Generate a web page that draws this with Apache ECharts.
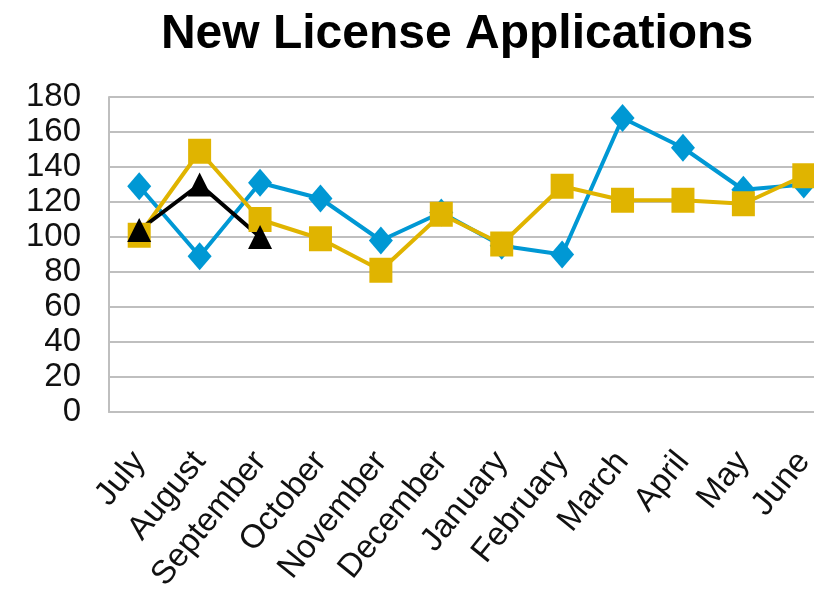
<!DOCTYPE html>
<html>
<head>
<meta charset="utf-8">
<script src="https://cdn.jsdelivr.net/npm/echarts@6/dist/echarts.min.js"></script>
<style>
  html, body { margin: 0; padding: 0; background: #fff; }
  #chart { width: 814px; height: 607px; }
</style>
</head>
<body>
<div id="chart"></div>
<script>
const months = ['July', 'August', 'September', 'October', 'November', 'December',
  'January', 'February', 'March', 'April', 'May', 'June']
const blueSeries = [129, 89, 131, 122, 98, 114, 95, 90, 168, 151, 127, 130]
const yellowSeries = [101, 149, 110, 99, 81, 113, 96, 129, 121, 121, 119, 135]
const blackSeries = [104, 130, 100]

const chart = echarts.init(document.getElementById('chart'))

const axisText = { color: '#111', fontSize: 33, fontFamily: 'Liberation Sans, Arial, sans-serif' }

chart.setOption({
  animation: false,
  title: {
    text: 'New License Applications',
    left: 452, top: 6, textAlign: 'center',
    textStyle: { color: '#000', fontSize: 48, fontWeight: 'bold', fontFamily: 'Liberation Sans, Arial, sans-serif' }
  },
  grid: { left: 109, top: 97, width: 725, height: 315, outerBoundsMode: 'none' },
  xAxis: {
    type: 'category', data: months, boundaryGap: true,
    axisLine: { lineStyle: { color: '#bfbfbf', width: 2 } },
    axisTick: { show: false },
    axisLabel: { ...axisText, rotate: 51, margin: 44, interval: 0 }
  },
  yAxis: {
    type: 'value', min: 0, max: 180, interval: 20,
    axisLine: { show: true, lineStyle: { color: '#bfbfbf', width: 2 } },
    axisTick: { show: false },
    axisLabel: { ...axisText, margin: 28 },
    splitLine: { lineStyle: { color: '#bfbfbf', width: 2 } }
  },
  series: [
    {
      name: 'Blue', type: 'line', data: blueSeries,
      symbol: 'diamond', symbolSize: [24, 28],
      lineStyle: { color: '#0098d4', width: 4 },
      itemStyle: { color: '#0098d4' }
    },
    {
      name: 'Yellow', type: 'line', data: yellowSeries,
      symbol: 'rect', symbolSize: [23, 25],
      lineStyle: { color: '#e0b400', width: 4 },
      itemStyle: { color: '#e0b400' }
    },
    {
      name: 'Black', type: 'line', data: blackSeries,
      symbol: 'triangle', symbolSize: [24, 24],
      lineStyle: { color: '#000', width: 4 },
      itemStyle: { color: '#000' }
    }
  ]
})
</script>
</body>
</html>
